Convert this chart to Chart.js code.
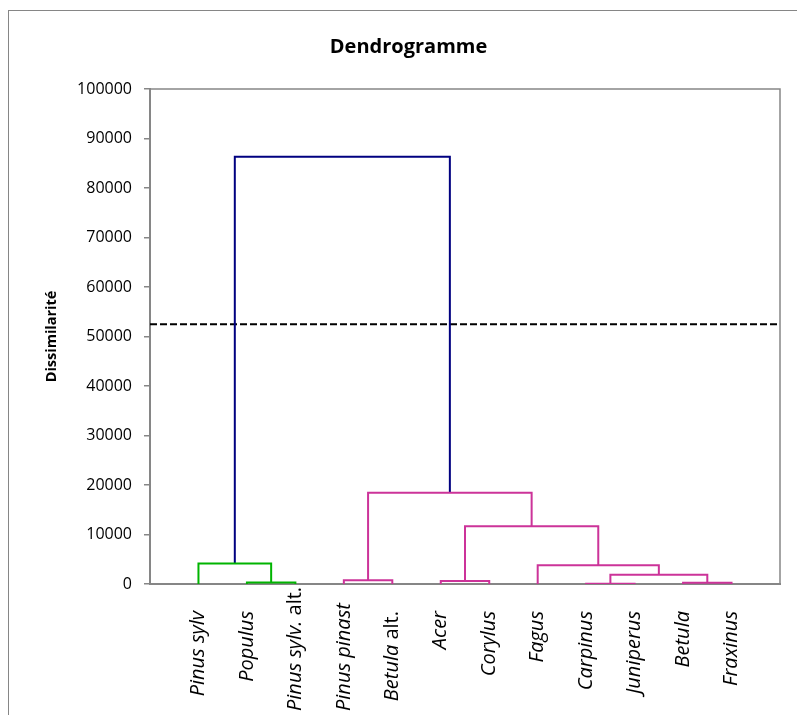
<!DOCTYPE html>
<html>
<head>
<meta charset="utf-8">
<title>Dendrogramme</title>
<script src="https://cdn.jsdelivr.net/npm/chart.js@4"></script>
<style>
  html, body { margin: 0; padding: 0; background: #fff; overflow: hidden; }
  #frame {
    position: absolute; left: 8px; top: 10px;
    width: 799px; height: 718px;
    border: 1px solid #868686;
  }
</style>
</head>
<body>
<div id="frame"><canvas id="dendro" width="799" height="718"></canvas></div>
<script>
// feuilles (ordre de l'axe) : partie en italique + suffixe droit
const leafNames = ['Pinus sylv', 'Populus', 'Pinus sylv.', 'Pinus pinast', 'Betula', 'Acer',
  'Corylus', 'Fagus', 'Carpinus', 'Juniperus', 'Betula', 'Fraxinus'];
const leafSuffix = ['', '', ' alt.', '', ' alt.', '', '', '', '', '', '', ''];

// fusions : noeuds 0..11 = feuilles, 12.. = fusions dans l'ordre
const mergeLeft   = [1, 0, 3, 5, 8, 10, 16, 7, 15, 14, 13];
const mergeRight  = [2, 12, 4, 6, 9, 11, 17, 18, 19, 20, 21];
const mergeHeight = [300, 4150, 750, 600, 50, 250, 1850, 3800, 11650, 18450, 86300];

const cutHeight = 52500;
const yTicks = [0, 10000, 20000, 30000, 40000, 50000, 60000, 70000, 80000, 90000, 100000];

const GREEN = '#00B400', MAGENTA = '#CC3399', NAVY = '#000080', GREY = '#868686';
const FONT = "'Open Sans', sans-serif";

// position x / hauteur de chaque noeud
const nLeaves = leafNames.length;
const nodeX = leafNames.map((_, i) => i + 1);
const nodeH = leafNames.map(() => 0);
mergeHeight.forEach((h, k) => {
  nodeX.push((nodeX[mergeLeft[k]] + nodeX[mergeRight[k]]) / 2);
  nodeH.push(h);
});

// couleur : racine en bleu, sous-arbre gauche vert, droit magenta
const rootId = nLeaves + mergeHeight.length - 1;
const nodeColour = {};
function paint(id, col) {
  if (id < nLeaves) return;
  nodeColour[id] = col;
  paint(mergeLeft[id - nLeaves], col);
  paint(mergeRight[id - nLeaves], col);
}
paint(mergeLeft[rootId - nLeaves], GREEN);
paint(mergeRight[rootId - nLeaves], MAGENTA);
nodeColour[rootId] = NAVY;

const datasets = mergeHeight.map((h, k) => {
  const a = mergeLeft[k], b = mergeRight[k];
  return {
    data: [
      { x: nodeX[a], y: nodeH[a] },
      { x: nodeX[a], y: h },
      { x: nodeX[b], y: h },
      { x: nodeX[b], y: nodeH[b] }
    ],
    borderColor: nodeColour[nLeaves + k],
    borderWidth: 2,
    pointRadius: 0,
    tension: 0
  };
});
datasets.push({
  data: [{ x: 0, y: cutHeight }, { x: nLeaves + 1, y: cutHeight }],
  borderColor: '#000',
  borderWidth: 2,
  borderDash: [7, 3],
  pointRadius: 0
});

// cadre de la zone de tracé + étiquettes des feuilles (italique / droit)
const plotDecor = {
  id: 'plotDecor',
  beforeDatasetsDraw(chart) {
    const { ctx, chartArea: a } = chart;
    ctx.save();
    ctx.strokeStyle = GREY;
    ctx.lineWidth = 1.5;
    ctx.strokeRect(a.left, a.top, a.right - a.left, a.bottom - a.top);
    ctx.restore();
  },
  afterDraw(chart) {
    const { ctx, chartArea: a, scales: { x } } = chart;
    const it = 'italic 20px ' + FONT, up = '20px ' + FONT;
    ctx.save();
    ctx.fillStyle = '#000';
    ctx.textBaseline = 'middle';
    ctx.textAlign = 'left';
    leafNames.forEach((name, i) => {
      ctx.font = it;
      const w1 = ctx.measureText(name).width;
      ctx.font = up;
      const w2 = ctx.measureText(leafSuffix[i]).width;
      const px = x.getPixelForValue(i + 1);
      const start = Math.min(a.bottom + 27 + w1 + w2, 700);
      ctx.save();
      ctx.translate(px, start);
      ctx.rotate(-Math.PI / 2);
      ctx.font = it;
      ctx.fillText(name, 0, 0);
      ctx.font = up;
      ctx.fillText(leafSuffix[i], w1, 0);
      ctx.restore();
    });
    ctx.restore();
  }
};

new Chart(document.getElementById('dendro'), {
  type: 'line',
  data: { datasets },
  plugins: [plotDecor],
  options: {
    responsive: false,
    animation: false,
    events: [],
    layout: { padding: { left: 28, right: 28, top: 0, bottom: 145 } },
    plugins: {
      legend: { display: false },
      tooltip: { enabled: false },
      title: {
        display: true,
        text: 'Dendrogramme',
        color: '#000',
        font: { family: FONT, size: 20, weight: 'bold' },
        padding: { top: 24, bottom: 30 }
      }
    },
    scales: {
      x: {
        type: 'linear',
        min: 0,
        max: nLeaves + 1,
        ticks: { display: false },
        grid: { display: false },
        border: { display: true, color: GREY, width: 2 },
        afterFit(s) { s.height = 0; }
      },
      y: {
        min: 0,
        max: 100000,
        afterBuildTicks(s) { s.ticks = yTicks.map(v => ({ value: v })); },
        ticks: {
          color: '#000',
          padding: 12,
          font: { family: FONT, size: 16 },
          callback: v => String(v)
        },
        grid: { drawOnChartArea: false, drawTicks: true, tickLength: 6, color: GREY, lineWidth: 1.5 },
        border: { display: true, color: GREY, width: 2 },
        title: {
          display: true,
          text: 'Dissimilarité',
          color: '#000',
          font: { family: FONT, size: 14.5, weight: 'bold' },
          padding: { top: 6, bottom: 0 }
        },
        afterFit(s) { s.width = 113; }
      }
    }
  }
});
</script>
</body>
</html>
